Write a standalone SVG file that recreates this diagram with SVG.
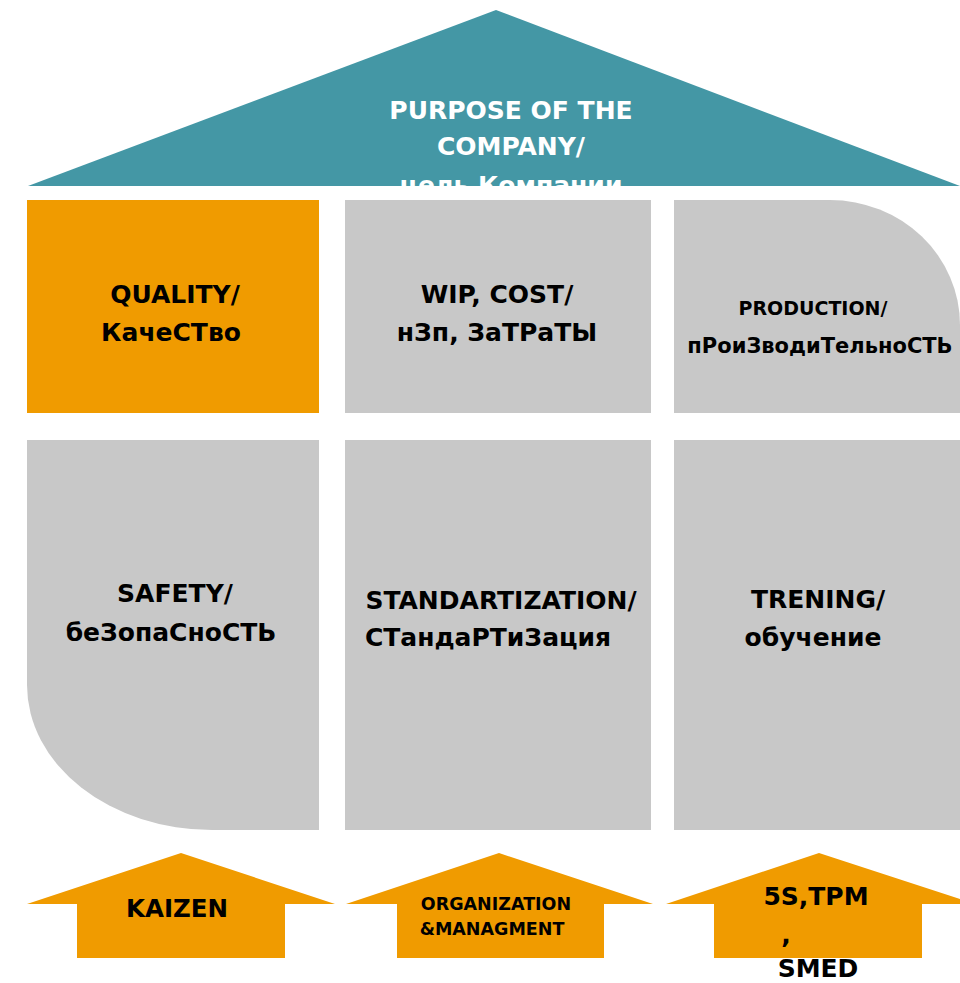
<svg xmlns="http://www.w3.org/2000/svg" width="960" height="983" viewBox="0 0 960 983">
<style>
.t{font-family:"DejaVu Sans","Liberation Sans",sans-serif;font-weight:bold;fill:#000;text-anchor:middle}
.w{fill:#fff}
.g{fill:#c8c8c8}
.o{fill:#f09b00}
</style>
<defs>
<clipPath id="roofclip"><polygon points="496,10 28,186 960,186"/></clipPath>
</defs>
<rect width="960" height="983" fill="#fff"/>
<g id="roof">
<polygon points="496,10 28,186 960,186" fill="#4497a5"/>
<g clip-path="url(#roofclip)">
<text class="t w" x="511" y="119" font-size="25">PURPOSE OF THE</text>
<text class="t w" x="511" y="155" font-size="25">COMPANY/</text>
<text class="t w" x="511" y="194" font-size="25">цель Компании</text>
</g>
</g>
<g id="quality">
<rect class="o" x="27" y="200" width="292" height="213"/>
<text class="t" x="175" y="303" font-size="25">QUALITY/</text>
<text class="t" x="171" y="341" font-size="25">КачеСТво</text>
</g>
<g id="wip">
<rect class="g" x="345" y="200" width="306" height="213"/>
<text class="t" x="497" y="303" font-size="25">WIP, COST/</text>
<text class="t" x="497" y="341" font-size="25">нЗп, ЗаТРаТЫ</text>
</g>
<g id="production">
<path class="g" d="M674,200 H830 A130,125 0 0 1 960,325 V413 H674 Z"/>
<text class="t" x="813" y="315" font-size="19">PRODUCTION/</text>
<text class="t" x="820" y="353" font-size="21">пРоиЗводиТельноСТЬ</text>
</g>
<g id="safety">
<path class="g" d="M27,440 H319 V830 H212 A185,145 0 0 1 27,685 Z"/>
<text class="t" x="175" y="602" font-size="25">SAFETY/</text>
<text class="t" x="171" y="641" font-size="25">беЗопаСноСТЬ</text>
</g>
<g id="standard">
<rect class="g" x="345" y="440" width="306" height="390"/>
<text class="t" x="501" y="609" font-size="25">STANDARTIZATION/</text>
<text class="t" x="488" y="646" font-size="25">СТандаРТиЗация</text>
</g>
<g id="training">
<rect class="g" x="674" y="440" width="286" height="390"/>
<text class="t" x="818" y="608" font-size="25">TRENING/</text>
<text class="t" x="813" y="646" font-size="25">обучение</text>
</g>
<g id="kaizen">
<polygon class="o" points="181,853 335,904 285,904 285,958 77,958 77,904 27,904"/>
<text class="t" x="177" y="917" font-size="24.5">KAIZEN</text>
</g>
<g id="organization">
<polygon class="o" points="499,853 653,904 604,904 604,958 397,958 397,904 346,904"/>
<text class="t" x="496" y="910" font-size="17.5">ORGANIZATION</text>
<text class="t" x="492" y="935" font-size="17.5">&amp;MANAGMENT</text>
</g>
<g id="tools">
<polygon class="o" points="819,853 960,899 960,904 922,904 922,958 714,958 714,904 666,904"/>
<text class="t" x="816" y="905" font-size="25">5S,TPM</text>
<text class="t" x="786" y="943" font-size="25">,</text>
<text class="t" x="818" y="977" font-size="25">SMED</text>
</g>
<g id="connectors"></g>
</svg>
